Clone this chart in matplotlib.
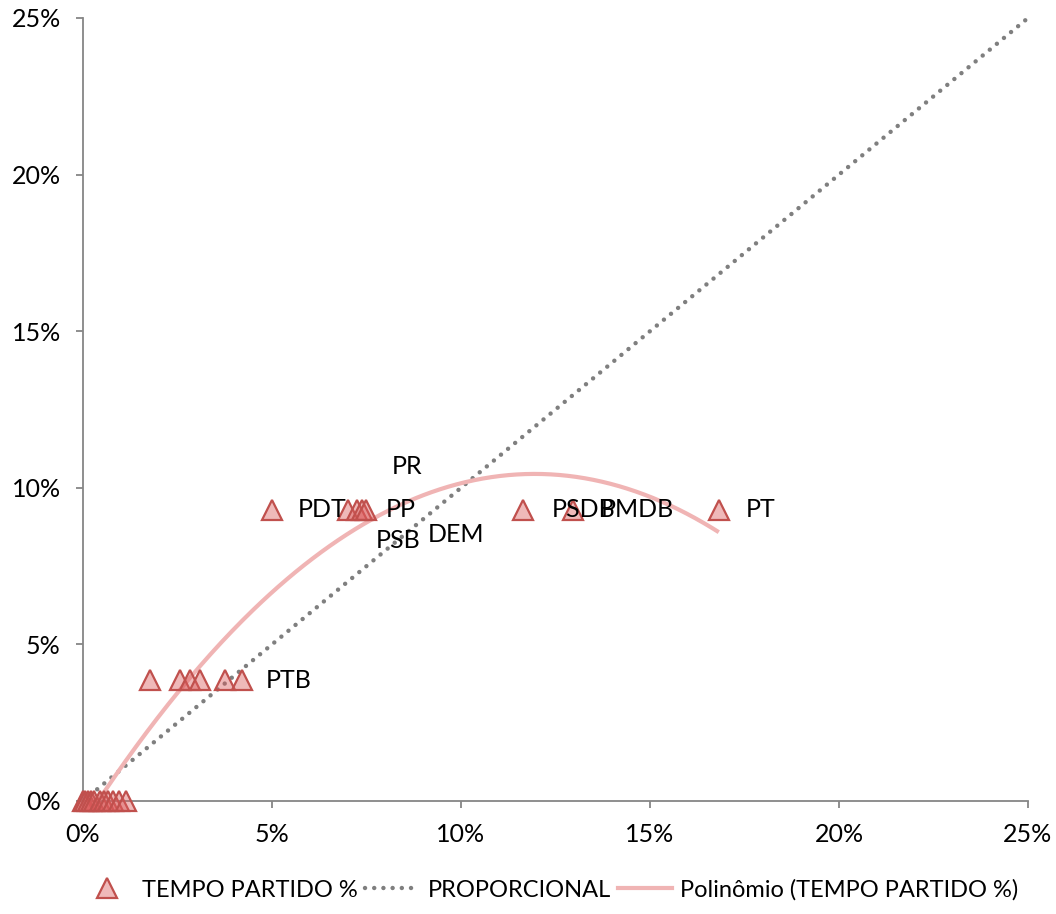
import numpy as np
import matplotlib
matplotlib.use("Agg")
import matplotlib.pyplot as plt
from matplotlib.lines import Line2D
from matplotlib.ticker import FuncFormatter

plt.rcParams['font.family'] = ['Lato', 'DejaVu Sans']

# party share (x, %) vs TEMPO PARTIDO (y, %)
labels = ["PDT", "PR", "PP", "PSB", "DEM", "PSDB", "PMDB", "PT",
          "", "", "", "", "", "PTB",
          "", "", "", "", "", "", "", "", "", "", ""]
x_vals = [5.0, 7.02, 7.24, 7.38, 7.48, 11.65, 12.95, 16.82,
          1.77, 2.57, 2.83, 3.10, 3.76, 4.21,
          0.0, 0.05, 0.12, 0.22, 0.30, 0.45, 0.55, 0.66, 0.80, 0.95, 1.15]
y_vals = [9.3, 9.3, 9.3, 9.3, 9.3, 9.3, 9.3, 9.3,
          3.85, 3.85, 3.85, 3.85, 3.85, 3.85,
          0, 0, 0, 0, 0, 0, 0, 0, 0, 0, 0]
prop_x = [0, 25]
prop_y = [0, 25]

# label offsets in pixels (manual positions from the original)
label_offsets = {"PDT": (26, 0), "PR": (43, 43), "PP": (29, 0), "PSB": (14, -31),
                 "DEM": (62, -25), "PSDB": (28, 0), "PMDB": (28, 0), "PT": (27, 0),
                 "PTB": (24, 0)}

fig = plt.figure(figsize=(10.56, 9.14), dpi=100)
ax = fig.add_axes([83 / 1056, 113 / 914, 945 / 1056, 783 / 914])

red = '#c0504d'
ax.plot(prop_x, prop_y, color='#7f7f7f', lw=3.2, linestyle=(0, (0.01, 2.06)),
        dash_capstyle='round', zorder=2)

# second order polynomial trendline
coef = np.polyfit(x_vals, y_vals, 2)
xs = np.linspace(min(x_vals), max(x_vals), 300)
ys = np.polyval(coef, xs)
ax.plot(xs, ys, color='#f0b4b4', lw=3, zorder=3, solid_capstyle='butt')

ax.plot(x_vals, y_vals, linestyle='none', marker='^', markersize=15,
        markerfacecolor=(0.86, 0.35, 0.35, 0.42), markeredgecolor=red,
        markeredgewidth=1.6, zorder=4, clip_on=False)

for lab, x, y in zip(labels, x_vals, y_vals):
    if lab:
        dx, dy = label_offsets[lab]
        ax.annotate(lab, (x, y), xytext=(dx, dy), textcoords='offset pixels',
                    ha='left', va='center', fontsize=18, color='black', zorder=5)

ax.set_xlim(0, 25)
ax.set_ylim(0, 25)
ax.set_xticks(np.arange(0, 26, 5))
ax.set_yticks(np.arange(0, 26, 5))
pct = FuncFormatter(lambda v, p: f"{v:.0f}%")
ax.xaxis.set_major_formatter(pct)
ax.yaxis.set_major_formatter(pct)
for s in ['top', 'right']:
    ax.spines[s].set_visible(False)
for s in ['left', 'bottom']:
    ax.spines[s].set_color('#868686')
    ax.spines[s].set_linewidth(1.3)
ax.tick_params(axis='both', length=5, width=1.3, color='#868686',
               labelsize=18, pad=11)

handles = [
    Line2D([], [], linestyle='none', marker='^', markersize=15,
           markerfacecolor=(0.86, 0.35, 0.35, 0.42), markeredgecolor=red,
           markeredgewidth=1.6),
    Line2D([], [], color='#7f7f7f', lw=3.2, linestyle=(0, (0.01, 2.06)),
           dash_capstyle='round'),
    Line2D([], [], color='#f0b4b4', lw=3),
]
fig.legend(handles, ["TEMPO PARTIDO %", "PROPORCIONAL", "Polinômio (TEMPO PARTIDO %)"],
           loc='center', bbox_to_anchor=(0.52, 24 / 914), ncol=3, frameon=False,
           fontsize=17, handlelength=2.3, columnspacing=0.3, handletextpad=0.35)

fig.savefig("out.png", dpi=100)
